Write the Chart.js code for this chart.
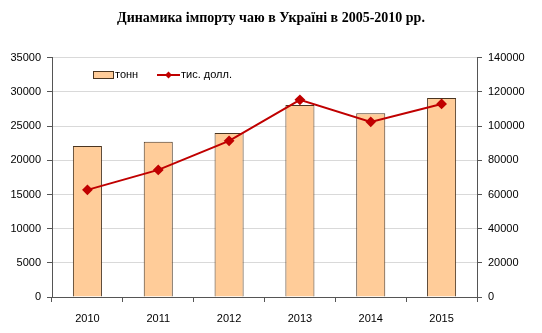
<!DOCTYPE html>
<html>
<head>
<meta charset="utf-8">
<script src="https://cdn.jsdelivr.net/npm/chart.js@4/dist/chart.umd.min.js"></script>
<style>
  html, body { margin: 0; padding: 0; background: #fff; }
  #wrap { width: 542px; height: 333px; }
</style>
</head>
<body>
<div id="wrap"><canvas id="chart" width="542" height="333"></canvas></div>
<script>
const years = ['2010', '2011', '2012', '2013', '2014', '2015'];
const tonnes = [22100, 22700, 24000, 28100, 26900, 29100];
const thousandUsd = [62700, 74400, 91400, 115400, 102500, 113000];
const legendLabels = ['тонн', 'тис. долл.'];

const barFill = '#ffcc99';
const barEdge = '#4a3520';
const lineRed = '#c00000';

// legend sits inside the plot area, like the original
const insideLegend = {
    id: 'insideLegend',
    afterDraw(chart) {
        const ctx = chart.ctx;
        const y = 75;
        ctx.save();
        ctx.font = '11px "Liberation Sans", Arial, sans-serif';
        ctx.textBaseline = 'middle';
        ctx.fillStyle = barFill;
        ctx.strokeStyle = barEdge;
        ctx.lineWidth = 1;
        ctx.fillRect(93.5, y - 3.5, 20, 7);
        ctx.strokeRect(93.5, y - 3.5, 20, 7);
        ctx.fillStyle = '#000';
        ctx.fillText(legendLabels[0], 115, y);
        ctx.strokeStyle = lineRed;
        ctx.lineWidth = 2;
        ctx.beginPath();
        ctx.moveTo(157, y);
        ctx.lineTo(180, y);
        ctx.stroke();
        ctx.fillStyle = lineRed;
        ctx.beginPath();
        ctx.moveTo(168.5, y - 3.5);
        ctx.lineTo(172, y);
        ctx.lineTo(168.5, y + 3.5);
        ctx.lineTo(165, y);
        ctx.closePath();
        ctx.fill();
        ctx.fillStyle = '#000';
        ctx.fillText(legendLabels[1], 181, y);
        ctx.restore();
    }
};

Chart.defaults.font.family = '"Liberation Sans", Arial, sans-serif';
Chart.defaults.font.size = 11;
Chart.defaults.color = '#000';

const plain = v => String(v);

new Chart(document.getElementById('chart'), {
    type: 'bar',
    data: {
        labels: years,
        datasets: [
            {
                type: 'line',
                label: legendLabels[1],
                data: thousandUsd,
                yAxisID: 'y1',
                borderColor: lineRed,
                backgroundColor: lineRed,
                borderWidth: 2,
                pointStyle: 'rectRot',
                pointRadius: 4,
                tension: 0,
                order: 0
            },
            {
                label: legendLabels[0],
                data: tonnes,
                yAxisID: 'y',
                backgroundColor: barFill,
                borderColor: barEdge,
                borderWidth: 1,
                barPercentage: 0.41,
                categoryPercentage: 1,
                order: 1
            }
        ]
    },
    options: {
        responsive: false,
        animation: false,
        layout: { padding: 0 },
        plugins: {
            legend: { display: false },
            tooltip: { enabled: false },
            title: {
                display: true,
                text: 'Динамика імпорту чаю в Україні в 2005-2010 рр.',
                font: { family: '"Liberation Serif", "Times New Roman", serif', size: 14, weight: 'bold' },
                color: '#000',
                padding: { top: 10, bottom: 31 }
            }
        },
        scales: {
            x: {
                grid: { drawOnChartArea: false, tickLength: 5, color: '#555' },
                border: { color: '#555' },
                ticks: { padding: 10 },
                afterFit(s) { s.height = 36; }
            },
            y: {
                position: 'left',
                min: 0, max: 35000,
                ticks: { stepSize: 5000, padding: 6, callback: plain },
                grid: { color: '#d9d9d9', tickColor: '#555', tickLength: 5 },
                border: { color: '#555' },
                afterFit(s) { s.width = 52; }
            },
            y1: {
                position: 'right',
                min: 0, max: 140000,
                ticks: { stepSize: 20000, padding: 6, callback: plain },
                grid: { drawOnChartArea: false, tickColor: '#555', tickLength: 5 },
                border: { color: '#555' },
                afterFit(s) { s.width = 65; }
            }
        }
    },
    plugins: [insideLegend]
});
</script>
</body>
</html>
